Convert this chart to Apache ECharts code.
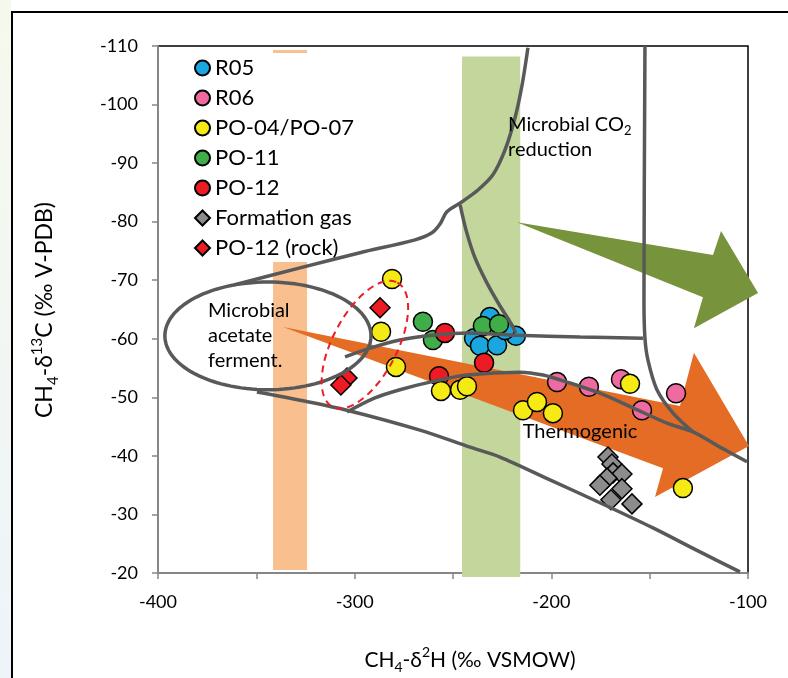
<!DOCTYPE html>
<html>
<head>
<meta charset="utf-8">
<script src="https://cdn.jsdelivr.net/npm/echarts/dist/echarts.min.js"></script>
<style>
  html, body { margin: 0; padding: 0; background: #fff; }
  #chart { width: 788px; height: 678px; }
</style>
</head>
<body>
<div id="chart"></div>
<script>
// ---- axis ticks ----
const xLabelValues = [-400, -300, -200, -100];
const yLabelValues = [-110, -100, -90, -80, -70, -60, -50, -40, -30, -20];

// ---- samples: [δ2H, δ13C] ----
const r05 = [[-231.2, -63.7], [-239.3, -60.1], [-236.3, -58.8], [-227.6, -58.9], [-218.0, -60.5], [-223.6, -61.5]];
const r06 = [[-197.1, -52.6], [-180.9, -51.8], [-164.6, -53.1], [-153.9, -47.8], [-136.6, -50.7]];
const po0407 = [[-281.0, -70.2], [-286.6, -61.2], [-279.0, -55.2], [-256.1, -51.1], [-246.4, -51.3], [-242.9, -51.9],
                [-214.4, -47.8], [-207.3, -49.2], [-199.2, -47.3], [-160.0, -52.3], [-133.1, -34.5]];
const po11 = [[-265.3, -62.9], [-260.2, -59.8], [-234.8, -62.2], [-226.6, -62.5]];
const po12 = [[-254.1, -61.0], [-257.1, -53.6], [-234.2, -55.9]];
const formationGas = [[-171.2, -39.8], [-169.2, -38.6], [-168.6, -37.1], [-164.1, -36.9], [-171.7, -36.2],
                      [-175.3, -35.0], [-164.1, -34.4], [-169.7, -32.5], [-159.0, -31.8]];
const po12Rock = [[-287.1, -65.3], [-303.9, -53.3], [-307.0, -52.1]];

// ---- genetic field boundaries ----
const upperBoundary = [[-361.4, -69.2], [-327.8, -72.1], [-297.3, -74.7], [-269.3, -76.9], [-260.7, -78.1],
                       [-256.6, -79.6], [-253.1, -81.7], [-245.4, -83.4], [-237.3, -85.4], [-229.7, -88.0],
                       [-223.6, -92.2], [-218.5, -97.7], [-214.9, -103.3], [-211.9, -109.7]];
const co2Branch = [[-246.4, -82.9], [-243.4, -78.6], [-238.8, -73.8], [-232.7, -69.5], [-226.1, -65.6],
                   [-221.0, -62.9], [-218.0, -61.0]];
const midLine = [[-304.9, -56.9], [-292.2, -58.4], [-277.0, -59.8], [-260.2, -60.6], [-242.9, -61.0],
                 [-217.5, -60.6], [-185.4, -60.3], [-153.4, -60.1]];
const rightBoundary = [[-152.4, -110], [-152.9, -66.6], [-152.4, -60.1], [-150.9, -56.4], [-146.3, -51.3],
                       [-138.1, -47.3], [-128.0, -44.1]];
const thermoUpper = [[-303.9, -47.5], [-289.7, -49.9], [-277.0, -51.3], [-261.7, -52.6], [-242.9, -53.8],
                     [-215.9, -54.3], [-204.2, -53.8], [-192.0, -52.6], [-175.3, -50.7], [-158.5, -48.2],
                     [-141.2, -45.6], [-128.0, -44.1], [-114.2, -41.5], [-100.5, -39.0]];
const thermoLower = [[-349.7, -50.9], [-327.8, -49.5], [-303.9, -47.8], [-266.8, -44.4], [-241.4, -41.5],
                     [-226.1, -39.8], [-200.7, -35.9], [-175.3, -32.0], [-148.3, -27.7], [-124.4, -23.6],
                     [-104.1, -20.2]];

// ---- trend arrows (outline vertices) ----
const thermoArrow = [[-336.4, -62.0], [-134.6, -48.5], [-127.5, -57.6], [-99.5, -41.7], [-147.3, -33.0], [-143.2, -37.9]];
const co2Arrow = [[-217.5, -79.9], [-117.8, -74.3], [-113.7, -78.4], [-94.9, -67.8], [-127.5, -61.8], [-122.9, -67.1]];

// ---- shaded δ2H ranges: [xFrom, xTo, yFrom, yTo] ----
const acetateBand = [-341.5, -324.2, -73.1, -20.5];
const acetateBandTop = [-341.5, -324.2, -109.3, -108.8];
const co2Band = [-245.4, -215.8, -108.2, -19.3];

// ---- outlines: ellipse [cx, cy, rx, ry]; tilted ellipse [cx, cy, axisEndX, axisEndY, minor/major] ----
const acetateField = [-344.1, -60.5, 52.4, 9.2];
const rockGroup = [-294.8, -59.0, -278.3, -69.6, 0.46];

const FONT = 'Lato, "Liberation Sans", sans-serif';
const LINE_COLOR = '#595959';

function rectSeries(range, color, z) {
  return {
    type: 'custom', silent: true, z: z, clip: false, data: [range],
    renderItem: function (params, api) {
      const a = api.coord([api.value(0), api.value(2)]);
      const b = api.coord([api.value(1), api.value(3)]);
      return {
        type: 'rect',
        shape: { x: Math.min(a[0], b[0]), y: Math.min(a[1], b[1]), width: Math.abs(b[0] - a[0]), height: Math.abs(b[1] - a[1]) },
        style: { fill: color }
      };
    }
  };
}

function polygonSeries(pts, color, z) {
  return {
    type: 'custom', silent: true, z: z, clip: false, data: pts,
    renderItem: function (params, api) {
      if (params.dataIndex !== 0) return null;
      return { type: 'polygon', shape: { points: pts.map(function (p) { return api.coord(p); }) }, style: { fill: color } };
    }
  };
}

function boundarySeries(pts) {
  return {
    type: 'line', silent: true, z: 5, data: pts, smooth: 0.3, showSymbol: false, symbol: 'none',
    lineStyle: { color: LINE_COLOR, width: 3.5 }, clip: false
  };
}

function ellipseSeries(e) {
  return {
    type: 'custom', silent: true, z: 5, clip: false, data: [e],
    renderItem: function (params, api) {
      const c = api.coord([api.value(0), api.value(1)]);
      const s = api.size([api.value(2), api.value(3)]);
      const pts = [];
      for (let i = 0; i < 120; i++) {
        const t = i / 120 * Math.PI * 2;
        pts.push([c[0] + s[0] * Math.cos(t), c[1] + s[1] * Math.sin(t)]);
      }
      return { type: 'polygon', shape: { points: pts }, style: { fill: 'none', stroke: LINE_COLOR, lineWidth: 3.5 } };
    }
  };
}

function tiltedEllipseSeries(e) {
  return {
    type: 'custom', silent: true, z: 6, clip: false, data: [e],
    renderItem: function (params, api) {
      const c = api.coord([api.value(0), api.value(1)]);
      const a = api.coord([api.value(2), api.value(3)]);
      const k = api.value(4);
      const vx = a[0] - c[0], vy = a[1] - c[1];
      const px = -vy * k, py = vx * k;
      const pts = [];
      for (let i = 0; i < 120; i++) {
        const t = i / 120 * Math.PI * 2;
        pts.push([c[0] + vx * Math.cos(t) + px * Math.sin(t), c[1] + vy * Math.cos(t) + py * Math.sin(t)]);
      }
      return { type: 'polygon', shape: { points: pts },
               style: { fill: 'none', stroke: '#ED1C24', lineWidth: 2, lineDash: [7, 5] } };
    }
  };
}

function labelSeries(pos, style) {
  return {
    type: 'custom', silent: true, z: 7, clip: false, data: [pos],
    renderItem: function (params, api) {
      const c = api.coord([api.value(0), api.value(1)]);
      return { type: 'text', x: c[0], y: c[1], style: Object.assign({ fill: '#000' }, style) };
    }
  };
}

function pointSeries(name, data, symbol, size, color, z) {
  return {
    name: name, type: 'scatter', data: data, symbol: symbol, symbolSize: size, z: z,
    itemStyle: { color: color, borderColor: '#000', borderWidth: 1.5, opacity: 1 },
    emphasis: { disabled: true }
  };
}

const chart = echarts.init(document.getElementById('chart'));

function titleRich(size) {
  const small = Math.round(size * 0.66);
  return {
    a: { fontSize: size, fontFamily: FONT, color: '#000', lineHeight: size + 8, verticalAlign: 'middle' },
    sub: { fontSize: small, fontFamily: FONT, color: '#000', lineHeight: small, verticalAlign: 'bottom' },
    sup: { fontSize: small, fontFamily: FONT, color: '#000', lineHeight: small, verticalAlign: 'top' }
  };
}

chart.setOption({
  animation: false,
  backgroundColor: '#fff',
  textStyle: { fontFamily: FONT },
  graphic: [
    { type: 'rect', left: 0, top: 0, z: -10, silent: true, shape: { width: 11, height: 678 },
      style: { fill: new echarts.graphic.LinearGradient(0, 0, 0, 1, [
        { offset: 0, color: '#f5f9ed' }, { offset: 1, color: '#eef4f9' }]) } },
    { type: 'rect', left: 11, top: 11, z: -9, silent: true, shape: { width: 800, height: 700 },
      style: { fill: '#fff', stroke: '#000', lineWidth: 2 } },
    { type: 'text', x: 45, y: 310, rotation: Math.PI / 2, z: 10, silent: true,
      style: { text: '{a|CH}{sub|4}{a|-δ}{sup|13}{a|C (‰ V-PDB)}', rich: titleRich(23), align: 'center', verticalAlign: 'middle' } },
    { type: 'text', x: 470, y: 660, z: 10, silent: true,
      style: { text: '{a|CH}{sub|4}{a|-δ}{sup|2}{a|H (‰ VSMOW)}', rich: titleRich(21), align: 'center', verticalAlign: 'middle' } }
  ],
  grid: { left: 158, right: 40, top: 46, bottom: 105, show: true, borderColor: '#000', borderWidth: 1.5, backgroundColor: 'transparent' },
  legend: {
    orient: 'vertical', left: 189, top: 52, itemWidth: 15, itemHeight: 15, itemGap: 8,
    data: ['R05', 'R06', 'PO-04/PO-07', 'PO-11', 'PO-12', 'Formation gas', 'PO-12 (rock)'],
    textStyle: { fontSize: 22, fontFamily: FONT, color: '#000' },
    selectedMode: false
  },
  xAxis: {
    type: 'value', min: -400, max: -100, interval: 50,
    axisLine: { onZero: false, lineStyle: { color: '#868686', width: 2 } },
    axisTick: { length: 6, lineStyle: { color: '#868686', width: 1.5 } },
    axisLabel: { margin: 20, fontSize: 18, color: '#000', fontFamily: FONT,
      formatter: function (v) { return xLabelValues.indexOf(v) >= 0 ? String(v) : ''; } },
    splitLine: { show: false }
  },
  yAxis: {
    type: 'value', min: -110, max: -20, interval: 10, inverse: true,
    axisLine: { onZero: false, lineStyle: { color: '#868686', width: 2 } },
    axisTick: { length: 6, lineStyle: { color: '#868686', width: 1.5 } },
    axisLabel: { margin: 20, fontSize: 18, color: '#000', fontFamily: FONT,
      formatter: function (v) { return yLabelValues.indexOf(v) >= 0 ? String(v) : ''; } },
    splitLine: { show: false }
  },
  series: [
    rectSeries(acetateBand, '#F9BF8F', 1),
    rectSeries(acetateBandTop, '#F9BF8F', 1),
    rectSeries(co2Band, '#C3D69B', 1),
    polygonSeries(thermoArrow, '#E46C24', 2),
    polygonSeries(co2Arrow, '#77933C', 2),
    pointSeries('R05', r05, 'circle', 19, '#1AA7E0', 3),
    pointSeries('R06', r06, 'circle', 19, '#EE6AA0', 3),
    pointSeries('PO-11', po11, 'circle', 19, '#3FAE49', 3),
    pointSeries('PO-12', po12, 'circle', 19, '#ED1C24', 3),
    pointSeries('PO-04/PO-07', po0407, 'circle', 19, '#F5EA14', 3),
    pointSeries('Formation gas', formationGas, 'diamond', 20, '#8C8C8C', 3),
    pointSeries('PO-12 (rock)', po12Rock, 'diamond', 20, '#ED1C24', 3),
    boundarySeries(upperBoundary),
    boundarySeries(co2Branch),
    boundarySeries(midLine),
    boundarySeries(rightBoundary),
    boundarySeries(thermoUpper),
    boundarySeries(thermoLower),
    ellipseSeries(acetateField),
    tiltedEllipseSeries(rockGroup),
    labelSeries([-374.6, -60.5], { text: 'Microbial\nacetate\nferment.', font: '20px ' + FONT, lineHeight: 25, align: 'left', verticalAlign: 'middle' }),
    labelSeries([-222.0, -94.4], {
      text: '{a|Microbial CO}{s|2}\n{a|reduction}',
      rich: { a: { fontSize: 20, fontFamily: FONT, color: '#000', lineHeight: 25, verticalAlign: 'middle' },
              s: { fontSize: 13, fontFamily: FONT, color: '#000', lineHeight: 13, verticalAlign: 'bottom' } },
      align: 'left', verticalAlign: 'middle' }),
    labelSeries([-185.4, -44.1], { text: 'Thermogenic', font: '20px ' + FONT, align: 'center', verticalAlign: 'middle' })
  ]
});
</script>
</body>
</html>
